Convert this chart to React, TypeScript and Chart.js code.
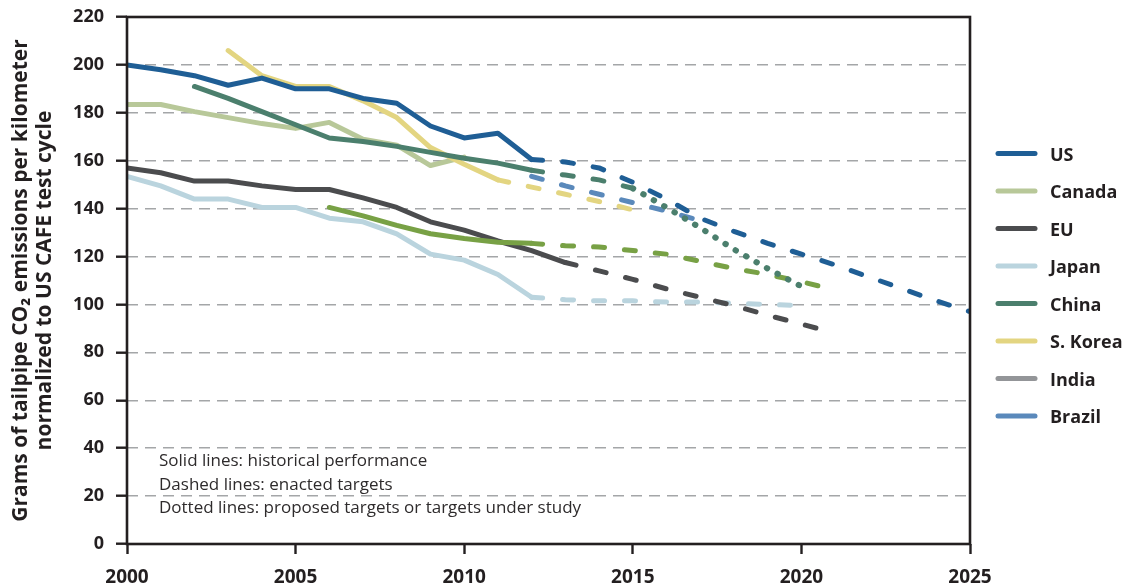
import React, { useEffect, useRef } from 'react';
import { Chart, registerables } from 'chart.js';

Chart.register(...registerables);

// ---------- axes ----------
const xTickValues = [2000, 2005, 2010, 2015, 2020, 2025];
const yTickValues = [0, 20, 40, 60, 80, 100, 120, 140, 160, 180, 200, 220];
const yTitle = ['Grams of tailpipe CO\u2082 emissions per kilometer', 'normalized to US CAFE test cycle'];

// ---------- data (g CO2 / km, CAFE-normalized) ----------
const usHistYears = [2000, 2001, 2002, 2003, 2004, 2005, 2006, 2007, 2008, 2009, 2010, 2011, 2012];
const usHist = [200, 198, 195.5, 191.5, 194.5, 190, 190, 186, 184, 174.5, 169.5, 171.5, 160.5];
const usTargetYears = [2012, 2013, 2014, 2015, 2016, 2017, 2018, 2019, 2020, 2021, 2022, 2023, 2024, 2025];
const usTarget = [160.5, 159.5, 157, 151, 144, 136, 130.5, 125.5, 121, 116.5, 111.5, 106.5, 101.5, 97];

const canadaHistYears = [2000, 2001, 2002, 2003, 2004, 2005, 2006, 2007, 2008, 2009, 2010];
const canadaHist = [183.5, 183.5, 180.5, 178, 175.5, 173.5, 176, 169, 166.5, 158, 161.5];

const euHistYears = [2000, 2001, 2002, 2003, 2004, 2005, 2006, 2007, 2008, 2009, 2010, 2011, 2012, 2013];
const euHist = [157, 155, 151.5, 151.5, 149.5, 148, 148, 144.5, 140.5, 134.5, 131, 126.5, 122.5, 117.5];
const euTargetYears = [2013, 2014, 2015, 2016, 2017, 2018, 2019, 2020, 2021];
const euTarget = [117.5, 114, 110.5, 106.5, 103, 99.5, 95.5, 91.8, 88];

const japanHistYears = [2000, 2001, 2002, 2003, 2004, 2005, 2006, 2007, 2008, 2009, 2010, 2011, 2012];
const japanHist = [153.5, 149.5, 144, 144, 140.5, 140.5, 136, 134.5, 129.5, 121, 118.5, 112.5, 103];
const japanTargetYears = [2012, 2013, 2014, 2015, 2016, 2017, 2018, 2019, 2020];
const japanTarget = [103, 102, 101.5, 101.5, 101, 101, 100.5, 100, 99.5];

const chinaHistYears = [2002, 2003, 2004, 2005, 2006, 2007, 2008, 2009, 2010, 2011, 2012];
const chinaHist = [191, 186, 180.5, 175, 169.5, 168, 166, 163.5, 161, 159, 156];
const chinaTargetYears = [2012, 2013, 2014, 2015];
const chinaTarget = [156, 154, 152, 148.5];
const chinaProposedYears = [2015, 2016, 2017, 2018, 2019, 2020];
const chinaProposed = [148.5, 140.5, 132, 123, 115, 107.5];

const koreaHistYears = [2003, 2004, 2005, 2006, 2007, 2008, 2009, 2010, 2011];
const koreaHist = [206, 195.5, 191, 191, 185, 178, 165.5, 158.5, 152];
const koreaTargetYears = [2011, 2012, 2013, 2014, 2015];
const koreaTarget = [152, 149, 146, 143, 139.5];

const indiaHistYears = [2006, 2007, 2008, 2009, 2010, 2011, 2012];
const indiaHist = [140.5, 137, 133, 129.5, 127.5, 126, 125.5];
const indiaTargetYears = [2012, 2013, 2014, 2015, 2016, 2017, 2018, 2019, 2020, 2021];
const indiaTarget = [125.5, 124.5, 124, 122.5, 121, 118, 115, 112.5, 109.5, 106];

const brazilTargetYears = [2012, 2013, 2014, 2015, 2016, 2017];
const brazilTarget = [153.5, 149.5, 146, 142.5, 139, 135];

// ---------- legend & notes ----------
const legendLabels = ['US', 'Canada', 'EU', 'Japan', 'China', 'S. Korea', 'India', 'Brazil'];
const noteLines = [
  'Solid lines: historical performance',
  'Dashed lines: enacted targets',
  'Dotted lines: proposed targets or targets under study',
];

const COLORS: Record<string, string> = {
  US: '#1f5e95',
  Canada: '#b8c899',
  EU: '#4b4c4e',
  Japan: '#bad4de',
  China: '#4b7f6d',
  'S. Korea': '#e3d581',
  India: '#939598',
  IndiaLine: '#78a145',
  Brazil: '#5a89bb',
};

const INK = '#231f20';
const FONT = '"Open Sans", "Noto Sans", sans-serif';

type Style = 'solid' | 'dashed' | 'dotted';

function makeSeries(label: string, years: number[], values: number[], color: string, style: Style) {
  return {
    label,
    data: years.map((x, i) => ({ x, y: values[i] })),
    borderColor: color,
    backgroundColor: color,
    borderWidth: style === 'dotted' ? 6 : 5,
    borderCapStyle: 'round' as const,
    borderJoinStyle: 'round' as const,
    borderDash: style === 'solid' ? [] : style === 'dashed' ? [11, 20] : [0.5, 11.5],
    pointRadius: 0,
    pointHoverRadius: 0,
    fill: false,
    tension: 0,
  };
}

const overlayPlugin = {
  id: 'overlay',
  afterDraw(chart: any) {
    const { ctx, chartArea: a } = chart;
    ctx.save();
    // frame
    ctx.strokeStyle = INK;
    ctx.lineWidth = 2.6;
    ctx.strokeRect(a.left, a.top, a.right - a.left, a.bottom - a.top);

    // notes
    ctx.fillStyle = '#2e2b2c';
    ctx.font = `17px ${FONT}`;
    ctx.textAlign = 'left';
    ctx.textBaseline = 'alphabetic';
    noteLines.forEach((t, i) => ctx.fillText(t, a.left + 32, a.bottom - 78 + i * 23.5));

    // legend
    const step = 37.5;
    const y0 = a.top + 136.5;
    ctx.lineCap = 'round';
    ctx.lineWidth = 5;
    ctx.font = `bold 18px ${FONT}`;
    legendLabels.forEach((name, i) => {
      const y = y0 + i * step;
      ctx.strokeStyle = COLORS[name];
      ctx.beginPath();
      ctx.moveTo(a.right + 28, y);
      ctx.lineTo(a.right + 65, y);
      ctx.stroke();
      ctx.fillStyle = INK;
      ctx.fillText(name, a.right + 80, y + 7);
    });
    ctx.restore();
  },
};

export default function App() {
  const canvasRef = useRef<HTMLCanvasElement | null>(null);

  useEffect(() => {
    if (!canvasRef.current) return;
    const datasets = [
      makeSeries('US', usHistYears, usHist, COLORS.US, 'solid'),
      makeSeries('US target', usTargetYears, usTarget, COLORS.US, 'dashed'),
      makeSeries('China', chinaHistYears, chinaHist, COLORS.China, 'solid'),
      makeSeries('China target', chinaTargetYears, chinaTarget, COLORS.China, 'dashed'),
      makeSeries('China proposed', chinaProposedYears, chinaProposed, COLORS.China, 'dotted'),
      makeSeries('Brazil target', brazilTargetYears, brazilTarget, COLORS.Brazil, 'dashed'),
      makeSeries('S. Korea', koreaHistYears, koreaHist, COLORS['S. Korea'], 'solid'),
      makeSeries('S. Korea target', koreaTargetYears, koreaTarget, COLORS['S. Korea'], 'dashed'),
      makeSeries('India', indiaHistYears, indiaHist, COLORS.IndiaLine, 'solid'),
      makeSeries('India target', indiaTargetYears, indiaTarget, COLORS.IndiaLine, 'dashed'),
      makeSeries('EU', euHistYears, euHist, COLORS.EU, 'solid'),
      makeSeries('EU target', euTargetYears, euTarget, COLORS.EU, 'dashed'),
      makeSeries('Japan', japanHistYears, japanHist, COLORS.Japan, 'solid'),
      makeSeries('Japan target', japanTargetYears, japanTarget, COLORS.Japan, 'dashed'),
      makeSeries('Canada', canadaHistYears, canadaHist, COLORS.Canada, 'solid'),
    ];

    const chart = new Chart(canvasRef.current, {
      type: 'line',
      data: { datasets },
      plugins: [overlayPlugin],
      options: {
        animation: false,
        responsive: true,
        maintainAspectRatio: false,
        layout: { padding: { top: 17, right: 163, left: 0, bottom: 0 } },
        plugins: { legend: { display: false }, tooltip: { enabled: false } },
        scales: {
          x: {
            type: 'linear',
            min: xTickValues[0],
            max: xTickValues[xTickValues.length - 1],
            afterBuildTicks: (s: any) => {
              s.ticks = xTickValues.map((v) => ({ value: v }));
            },
            afterFit: (s: any) => {
              s.height = 43;
            },
            ticks: {
              callback: (v: any) => String(v),
              color: INK,
              font: { family: FONT, weight: 'bold', size: 19 },
              padding: 12,
              maxRotation: 0,
            },
            grid: {
              drawOnChartArea: false,
              drawTicks: true,
              tickLength: 10,
              tickColor: INK,
              tickWidth: 2.4,
            },
            border: { display: false },
          },
          y: {
            type: 'linear',
            min: yTickValues[0],
            max: yTickValues[yTickValues.length - 1],
            afterBuildTicks: (s: any) => {
              s.ticks = yTickValues.map((v) => ({ value: v }));
            },
            afterFit: (s: any) => {
              s.width = 127;
              s.paddingTop = 0;
              s.paddingBottom = 0;
            },
            ticks: {
              callback: (v: any) => String(v),
              color: INK,
              font: { family: FONT, weight: 'bold', size: 18 },
              padding: 12,
            },
            grid: {
              color: '#a4a6a8',
              lineWidth: 1.4,
              drawTicks: true,
              tickLength: 11,
              tickColor: INK,
              tickWidth: 2.4,
              tickBorderDash: [],
            },
            border: { display: false, dash: [11, 7] },
            title: {
              display: true,
              text: yTitle,
              color: INK,
              font: { family: FONT, weight: 'bold', size: 21, lineHeight: 1.15 },
              padding: { top: 9, bottom: 0 },
            },
          },
        },
      },
    } as any);

    return () => chart.destroy();
  }, []);

  return (
    <div style={{ position: 'absolute', left: 0, top: 0, width: 1133, height: 587, background: '#fff' }}>
      <canvas ref={canvasRef} />
    </div>
  );
}
